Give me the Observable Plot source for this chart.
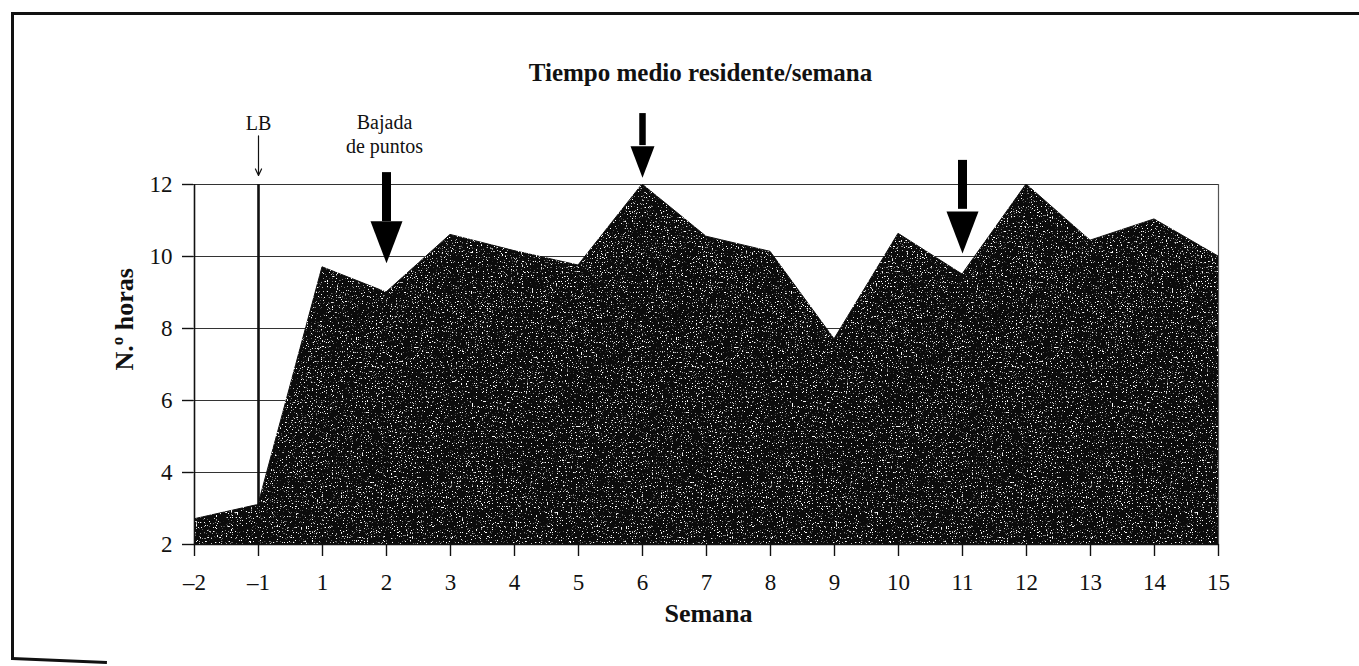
<!DOCTYPE html>
<html>
<head>
<meta charset="utf-8">
<script src="https://cdn.jsdelivr.net/npm/d3@7"></script>
<script src="https://cdn.jsdelivr.net/npm/@observablehq/plot@0.6"></script>
<style>
  html, body { margin: 0; padding: 0; background: #fff; overflow: hidden; }
  #page { position: relative; width: 1359px; height: 666px; }
  #sheet { position: absolute; left: 11px; top: 12px; width: 1400px; height: 645px;
           border-left: 3px solid #111; border-top: 3px solid #111; }
  #sheet-foot { position: absolute; left: 12px; top: 657px; width: 95px; height: 0;
                border-top: 3px solid #111; transform: rotate(2.4deg); transform-origin: left center; }
  #chart { position: absolute; left: 0; top: 0; }
</style>
</head>
<body>
<div id="page">
  <div id="sheet"></div>
  <div id="sheet-foot"></div>
  <div id="chart"></div>
</div>
<script>
// Weekly average time per resident (hours)
const weeks = ["–2", "–1", "1", "2", "3", "4", "5", "6", "7", "8", "9", "10", "11", "12", "13", "14", "15"];
const hours = [2.7, 3.1, 9.7, 9.0, 10.6, 10.15, 9.75, 12.0, 10.55, 10.13, 7.7, 10.63, 9.5, 12.0, 10.44, 11.03, 10.0];
const yTicks = [2, 4, 6, 8, 10, 12];
const gridTicks = [4, 6, 8, 10, 12];

// Event markers: week, shaft top, head base and tip (in hours)
const markerWeeks = ["2", "6", "11"];
const markerTop   = [12.33, 13.97, 12.67];
const markerBase  = [10.97, 13.08, 11.31];
const markerTip   = [9.81, 12.19, 10.08];
const markerBig   = [true, false, true];

const baselineWeek = "–1";

const data = weeks.map((w, i) => ({week: w, hours: hours[i]}));
const markers = markerWeeks.map((w, i) => ({week: w, top: markerTop[i], base: markerBase[i], tip: markerTip[i], big: markerBig[i]}));

// Down-pointing filled arrowhead, tip at the anchor point
const arrowHead = {
  draw(ctx, size) {
    const r = Math.sqrt(size / Math.PI);
    ctx.moveTo(-0.8 * r, -2.1 * r);
    ctx.lineTo(0.8 * r, -2.1 * r);
    ctx.lineTo(0, 0);
    ctx.closePath();
  }
};

const serif = "'Liberation Serif', 'Times New Roman', serif";
const first = weeks[0], last = weeks[weeks.length - 1];

const chart = Plot.plot({
  width: 1359,
  height: 666,
  marginLeft: 193,
  marginRight: 140,
  marginTop: 184,
  marginBottom: 122,
  style: {fontFamily: serif, fontSize: "23px", color: "#111", background: "transparent", overflow: "visible"},
  x: {type: "point", domain: weeks, padding: 0},
  y: {domain: [2, 12]},
  marks: [
    Plot.gridY(gridTicks, {stroke: "#333", strokeOpacity: 1, strokeWidth: 1.2}),
    Plot.ruleX([last], {y1: 2, y2: 12, stroke: "#555", strokeWidth: 1.2}),
    Plot.ruleX([baselineWeek], {y1: 2, y2: 12, stroke: "#111", strokeWidth: 2.6}),
    Plot.area(data, {x1: "week", y1: () => 2, y2: "hours", fill: "#0b0b0b", stroke: "#111", strokeWidth: 1}),
    Plot.ruleX([first], {y1: 2, y2: 12, stroke: "#111", strokeWidth: 1.6}),
    Plot.ruleY([2], {stroke: "#111", strokeWidth: 1.4}),
    Plot.axisY(yTicks, {tickSize: 11, tickPadding: 10, label: null, stroke: "#111", strokeWidth: 1.4}),
    Plot.axisX({tickSize: 12, tickPadding: 17, label: null, stroke: "#111", strokeWidth: 1.4}),

    // Baseline marker
    Plot.arrow([baselineWeek], {x1: d => d, x2: d => d, y1: () => 13.35, y2: () => 12.25,
      stroke: "#111", strokeWidth: 1.2, headLength: 9, headAngle: 50}),
    Plot.text([baselineWeek], {x: d => d, y: () => 13.7, text: () => "LB", fontSize: 20}),

    // Event arrows
    Plot.ruleX(markers, {x: "week", y1: "top", y2: "base", stroke: "#000",
      strokeWidth: d => d.big ? 9 : 6.5}),
    Plot.dot(markers.filter(d => d.big), {x: "week", y: "tip", r: 20, symbol: arrowHead, fill: "#000", stroke: "none"}),
    Plot.dot(markers.filter(d => !d.big), {x: "week", y: "tip", r: 15, symbol: arrowHead, fill: "#000", stroke: "none"}),
    Plot.text(["Bajada\nde puntos"], {x: () => "2", y: () => 13.42, dx: -2, fontSize: 20, lineHeight: 1.2}),

    // Titles
    Plot.text(["Tiempo medio residente/semana"], {frameAnchor: "top", dx: -6, dy: -121,
      fontSize: 25, fontWeight: "bold"}),
    Plot.text(["N.º horas"], {frameAnchor: "left", dx: -69, dy: 6, rotate: -90,
      fontSize: 26, fontWeight: "bold"}),
    Plot.text(["Semana"], {frameAnchor: "bottom", dx: 2, dy: 77, fontSize: 26, fontWeight: "bold"})
  ]
});

// Speckled print texture for the filled area
const svg = d3.select(chart);
const defs = svg.insert("defs", ":first-child");
const f = defs.append("filter").attr("id", "grain")
  .attr("x", "0%").attr("y", "0%").attr("width", "100%").attr("height", "100%")
  .attr("color-interpolation-filters", "sRGB");
f.append("feTurbulence").attr("type", "fractalNoise").attr("baseFrequency", 0.8)
  .attr("numOctaves", 2).attr("seed", 11).attr("result", "noise");
f.append("feColorMatrix").attr("in", "noise").attr("type", "matrix")
  .attr("values", "0 0 0 0 1  0 0 0 0 1  0 0 0 0 1  10 0 0 0 -6.3").attr("result", "specks");
f.append("feComposite").attr("in", "specks").attr("in2", "SourceGraphic").attr("operator", "in").attr("result", "inside");
const merge = f.append("feMerge");
merge.append("feMergeNode").attr("in", "SourceGraphic");
merge.append("feMergeNode").attr("in", "inside");
svg.selectAll("g[aria-label='area'] path").attr("filter", "url(#grain)");

document.getElementById("chart").appendChild(chart);
</script>
</body>
</html>
